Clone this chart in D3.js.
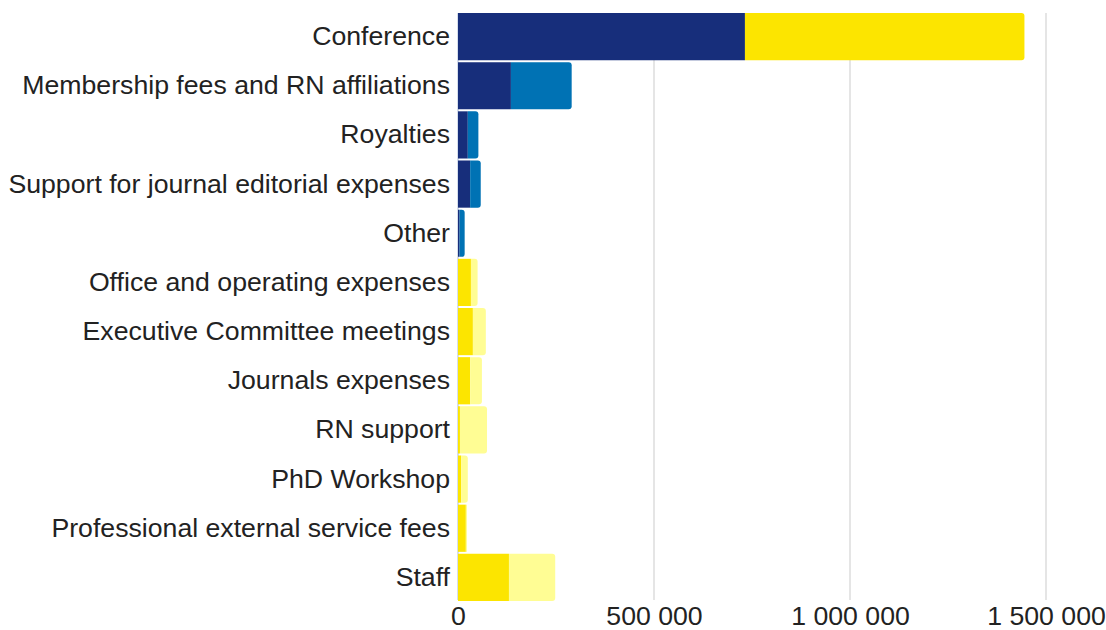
<!DOCTYPE html>
<html>
<head>
<meta charset="utf-8">
<script src="https://cdn.jsdelivr.net/npm/d3@7"></script>
<style>
  body { margin: 0; background: #fff; }
  svg { display: block; font-family: "Liberation Sans", Arial, sans-serif; }
</style>
</head>
<body>
<div id="chart"></div>
<script>
// categories, top to bottom
const categories = [
  "Conference",
  "Membership fees and RN affiliations",
  "Royalties",
  "Support for journal editorial expenses",
  "Other",
  "Office and operating expenses",
  "Executive Committee meetings",
  "Journals expenses",
  "RN support",
  "PhD Workshop",
  "Professional external service fees",
  "Staff"
];
// stacked series, left to right
const incomeA  = [732000, 135000, 25000, 31000, 4000, 0, 0, 0, 0, 0, 0, 0];
const incomeB  = [0, 155000, 27000, 27000, 13000, 0, 0, 0, 0, 0, 0, 0];
const expenseA = [713000, 0, 0, 0, 0, 33000, 38000, 31000, 5000, 8000, 20000, 130000];
const expenseB = [0, 0, 0, 0, 0, 17000, 33000, 30000, 69000, 17000, 3000, 118000];
const xTicks = [0, 500000, 1000000, 1500000];

const seriesList = [incomeA, incomeB, expenseA, expenseB];
const colors = ["#172e7b", "#0072b4", "#fce500", "#fffd94"];

const W = 1106, H = 630;
const margin = {left: 458, right: 20, top: 12, bottom: 28};
const fontSize = 26.67;

const svg = d3.select("#chart").append("svg").attr("width", W).attr("height", H);

const x = d3.scaleLinear().domain([0, 1500000]).range([margin.left, margin.left + 588]);
const y = d3.scaleBand().domain(categories).range([margin.top, H - margin.bottom])
  .paddingInner(0.04).paddingOuter(0.02);

// gridlines
svg.append("g").selectAll("line").data(xTicks).enter().append("line")
  .attr("x1", d => x(d)).attr("x2", d => x(d))
  .attr("y1", y(categories[0])).attr("y2", 600)
  .attr("stroke", d => d === 0 ? "#c9d3e6" : "#dddddd")
  .attr("stroke-width", 1.5);

// stack data
const rows = categories.map((c, i) => {
  let o = {cat: c};
  seriesList.forEach((s, k) => o["s" + k] = s[i]);
  return o;
});
const stack = d3.stack().keys(seriesList.map((s, k) => "s" + k));
const stacked = stack(rows);

// last non-zero segment of each row gets rounded right end
const lastKey = rows.map(r => {
  let last = -1;
  seriesList.forEach((s, k) => { if (r["s" + k] > 0) last = k; });
  return last;
});

const bh = y.bandwidth();
const rad = 3;
function segPath(x0, x1, y0, round) {
  const w = x1 - x0;
  if (!round || w < rad) {
    return `M${x0},${y0}H${x1}V${y0 + bh}H${x0}Z`;
  }
  return `M${x0},${y0}H${x1 - rad}Q${x1},${y0} ${x1},${y0 + rad}` +
    `V${y0 + bh - rad}Q${x1},${y0 + bh} ${x1 - rad},${y0 + bh}H${x0}Z`;
}

stacked.forEach((layer, k) => {
  svg.append("g").selectAll("path").data(layer).enter()
    .filter(d => d[1] - d[0] > 0)
    .append("path")
    .attr("fill", colors[k])
    .attr("d", d => {
      const idx = categories.indexOf(d.data.cat);
      return segPath(x(d[0]), x(d[1]), y(d.data.cat), lastKey[idx] === k);
    });
});

// category labels
const yAxis = d3.axisLeft(y).tickSize(0).tickPadding(8);
const gy = svg.append("g").attr("transform", `translate(${margin.left},0)`).call(yAxis);
gy.select(".domain").remove();
gy.selectAll("text").attr("font-size", fontSize).attr("fill", "#222")
  .attr("font-family", "Liberation Sans, Arial, sans-serif");

// x tick labels
const xAxis = d3.axisBottom(x).tickValues(xTicks).tickSize(0).tickPadding(0)
  .tickFormat(d => d3.format(",")(d).replace(/,/g, " "));
const gx = svg.append("g").attr("transform", `translate(0,602)`).call(xAxis);
gx.select(".domain").remove();
gx.selectAll("text").attr("font-size", fontSize).attr("fill", "#222").attr("dy", "0.88em")
  .attr("font-family", "Liberation Sans, Arial, sans-serif");
</script>
</body>
</html>
